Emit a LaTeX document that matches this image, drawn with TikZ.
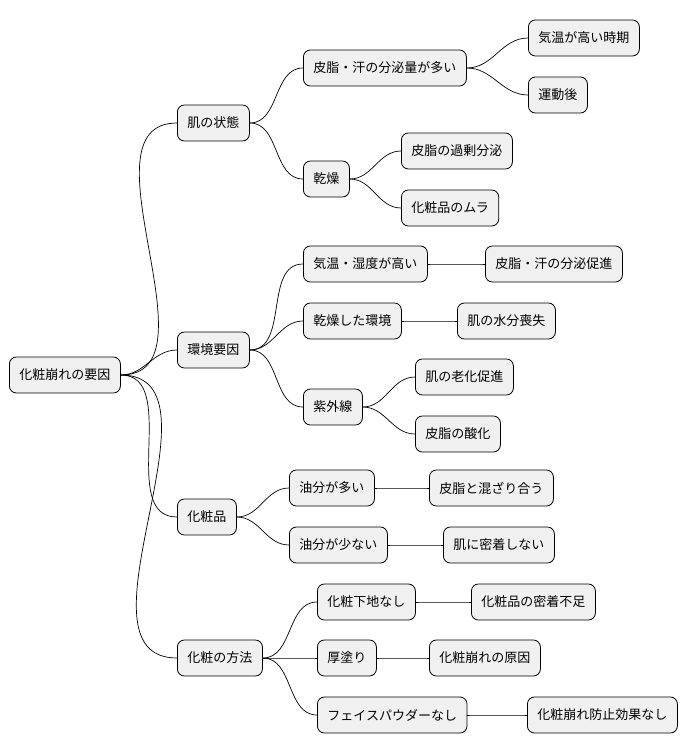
\documentclass[tikz,border=0pt]{standalone}
\usepackage{fontspec}
\setmainfont{Noto Sans CJK JP}
\begin{document}
\begin{tikzpicture}[x=1pt,y=1pt,
  box/.style={draw=black,fill=black!6,rounded corners=7pt,minimum height=36pt,inner xsep=10pt,anchor=west,font=\fontsize{13}{15}\selectfont,line width=0.8pt},
  link/.style={line width=0.7pt}]
\useasboundingbox (0,0) rectangle (698,-752);
\node[box] (r) at (9,-375) {化粧崩れの要因};
\node[box] (a) at (177,-123) {肌の状態};
\node[box] (b) at (177,-350) {環境要因};
\node[box] (c) at (177,-517) {化粧品};
\node[box] (d) at (177,-658) {化粧の方法};
\node[box] (a1) at (303,-68) {皮脂・汗の分泌量が多い};
\node[box] (a2) at (303,-179) {乾燥};
\node[box] (a11) at (528,-38) {気温が高い時期};
\node[box] (a12) at (528,-95) {運動後};
\node[box] (a21) at (401,-151) {皮脂の過剰分泌};
\node[box] (a22) at (401,-208) {化粧品のムラ};
\node[box] (b1) at (303,-264) {気温・湿度が高い};
\node[box] (b11) at (485,-264) {皮脂・汗の分泌促進};
\node[box] (b2) at (303,-321) {乾燥した環境};
\node[box] (b21) at (457,-321) {肌の水分喪失};
\node[box] (b3) at (303,-407) {紫外線};
\node[box] (b31) at (415,-377) {肌の老化促進};
\node[box] (b32) at (415,-434) {皮脂の酸化};
\node[box] (c1) at (289,-488) {油分が多い};
\node[box] (c11) at (429,-488) {皮脂と混ざり合う};
\node[box] (c2) at (289,-545) {油分が少ない};
\node[box] (c21) at (443,-545) {肌に密着しない};
\node[box] (d1) at (317,-602) {化粧下地なし};
\node[box] (d11) at (471,-602) {化粧品の密着不足};
\node[box] (d2) at (317,-658) {厚塗り};
\node[box] (d21) at (429,-658) {化粧崩れの原因};
\node[box] (d3) at (317,-715) {フェイスパウダーなし};
\node[box] (d31) at (527,-715) {化粧崩れ防止効果なし};
\foreach \p/\c in {r/a,r/b,r/c,r/d,a/a1,a/a2,a1/a11,a1/a12,a2/a21,a2/a22,b/b1,b/b2,b/b3,b1/b11,b2/b21,b3/b31,b3/b32,c/c1,c/c2,c1/c11,c2/c21,d/d1,d/d2,d/d3,d1/d11,d2/d21,d3/d31}
  \draw[link] (\p.east) to[out=0,in=180] (\c.west);
\end{tikzpicture}
\end{document}
